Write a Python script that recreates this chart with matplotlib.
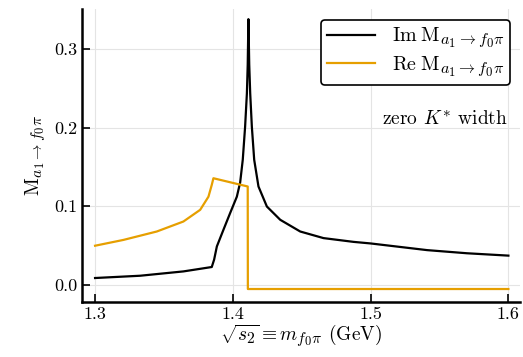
'''
Im / Re of M_{a1 -> f0 pi}, zero K* width
'''
import matplotlib
matplotlib.use('Agg')
import matplotlib.pyplot as plt
import matplotlib._mathtext as mathtext_mod

plt.rcParams['font.family'] = 'cmr10'
plt.rcParams['mathtext.fontset'] = 'cm'
plt.rcParams['axes.formatter.use_mathtext'] = True
mathtext_mod.SHRINK_FACTOR = 0.8  # bigger subscripts, closer to the LaTeX look

# Im part (black)
im_x = [1.300, 1.3327, 1.3641, 1.3847, 1.3864, 1.3884, 1.3932, 1.398, 1.4029,
        1.4053, 1.4072, 1.4089, 1.4102, 1.4108, 1.4113, 1.4119, 1.4126, 1.4138,
        1.4155, 1.4186, 1.4247, 1.4344, 1.4489, 1.4658, 1.4876, 1.500, 1.541,
        1.570, 1.600]
im_y = [0.0085, 0.0114, 0.0169, 0.0225, 0.0318, 0.0487, 0.070, 0.091, 0.112,
        0.130, 0.159, 0.201, 0.2436, 0.280, 0.338, 0.280, 0.2436, 0.201,
        0.159, 0.125, 0.0995, 0.0826, 0.0677, 0.0593, 0.0545, 0.0525, 0.044,
        0.040, 0.037]

# Re part (orange)
re_x = [1.300, 1.3206, 1.3448, 1.3641, 1.3763, 1.3823, 1.3847, 1.3859,
        1.4108, 1.4109, 1.600]
re_y = [0.0496, 0.057, 0.0677, 0.0804, 0.0953, 0.112, 0.127, 0.1355,
        0.125, -0.0055, -0.0055]

fig, ax = plt.subplots(figsize=(5.23, 3.57), dpi=100)
fig.subplots_adjust(left=0.157, right=0.995, top=0.975, bottom=0.155)

ax.plot(im_x, im_y, color='black', lw=1.6, label=r'$\mathrm{Im}\;\mathrm{M}_{a_1\to f_0\pi}$')
ax.plot(re_x, re_y, color='#e69f00', lw=1.6, label=r'$\mathrm{Re}\;\mathrm{M}_{a_1\to f_0\pi}$')

ax.set_xlim(1.2906, 1.6087)
ax.set_ylim(-0.0216, 0.351)
ax.set_xticks([1.3, 1.4, 1.5, 1.6])
ax.set_yticks([0.0, 0.1, 0.2, 0.3])
ax.set_xticklabels(['1.3', '1.4', '1.5', '1.6'])
ax.set_yticklabels(['0.0', '0.1', '0.2', '0.3'])
ax.tick_params(direction='in', length=6, width=1.2, labelsize=13)
ax.grid(True, color='#e4e4e4', lw=0.8)

for s in ['top', 'right']:
    ax.spines[s].set_visible(False)
for s in ['left', 'bottom']:
    ax.spines[s].set_linewidth(1.8)

ax.set_xlabel(r'$\sqrt{s_2}\equiv m_{f_0\pi}$ (GeV)', fontsize=14, labelpad=1)
ax.set_ylabel(r'$\mathrm{M}_{a_1\to f_0\pi}$', fontsize=14, labelpad=4)

leg = ax.legend(loc='upper right', bbox_to_anchor=(0.977, 0.962), borderaxespad=0,
                fontsize=14.5, frameon=True, fancybox=True, edgecolor='black',
                framealpha=1, borderpad=0.3, handlelength=2.4, handletextpad=0.8,
                labelspacing=0.2)
leg.get_frame().set_linewidth(1.2)

ax.text(1.6, 0.21, r'zero $K^{*}$ width', fontsize=14, ha='right', va='center')

plt.savefig('out.png')
